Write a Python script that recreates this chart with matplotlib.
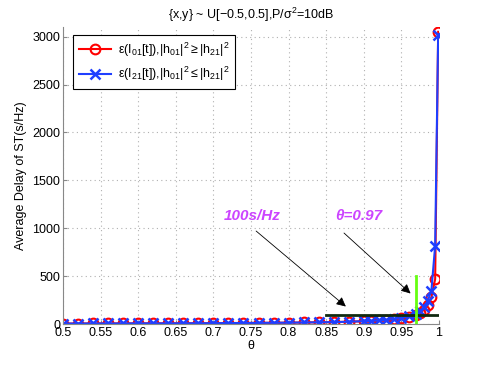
import matplotlib
matplotlib.use("Agg")
import matplotlib.pyplot as plt

plt.rcParams['font.family'] = ['Liberation Sans', 'DejaVu Sans']
plt.rcParams['mathtext.fontset'] = 'custom'
plt.rcParams['mathtext.rm'] = 'Liberation Sans'
plt.rcParams['mathtext.it'] = 'Liberation Sans:italic'

theta = [0.5, 0.52, 0.54, 0.56, 0.58, 0.6, 0.62, 0.64, 0.66, 0.68, 0.7, 0.72,
         0.74, 0.76, 0.78, 0.8, 0.82, 0.84, 0.86, 0.88, 0.9, 0.91, 0.92, 0.93,
         0.94, 0.95, 0.96, 0.97, 0.975, 0.98, 0.985, 0.99, 0.995, 0.999]
red_vals = [6, 6, 7, 7, 7, 8, 8, 8, 9, 9, 10, 11, 12, 13, 14, 15, 17, 19, 21,
            25, 30, 33, 38, 43, 50, 60, 75, 100, 120, 150, 200, 280, 470, 3050]
blue_vals = [6, 6, 7, 7, 7, 8, 8, 8, 9, 9, 10, 11, 12, 13, 14, 15, 17, 19, 21,
             25, 31, 34, 39, 45, 53, 64, 82, 110, 135, 175, 240, 350, 820, 3020]

label_red = r'$\mathrm{\epsilon(I_{01}[t]){,}|h_{01}|^2 \geq |h_{21}|^2}$'
label_blue = r'$\mathrm{\epsilon(I_{21}[t]){,}|h_{01}|^2 \leq |h_{21}|^2}$'

fig = plt.figure(figsize=(4.85, 3.65), dpi=100)
ax = fig.add_axes([0.13, 0.112, 0.775, 0.814])

ax.plot(theta, red_vals, color='red', lw=1.5, marker='o', ms=7,
        mfc='none', mew=1.5, label=label_red)
ax.plot(theta, blue_vals, color='#1f3fff', lw=1.5, marker='x', ms=7,
        mew=1.8, label=label_blue)

ax.plot([0.85, 1.0], [100, 100], color='#102a10', lw=2)
ax.plot([0.97, 0.97], [0, 500], color='#66ff11', lw=2)

ax.set_xlim(0.5, 1.0)
ax.set_ylim(0, 3100)
ax.set_xticks([0.5, 0.55, 0.6, 0.65, 0.7, 0.75, 0.8, 0.85, 0.9, 0.95, 1.0])
ax.set_xticklabels(['0.5', '0.55', '0.6', '0.65', '0.7', '0.75', '0.8',
                    '0.85', '0.9', '0.95', '1'])
ax.set_yticks([0, 500, 1000, 1500, 2000, 2500, 3000])
ax.grid(True, linestyle=(0, (1, 3)), color='#b0b0b0', lw=0.8)
for s in ['top', 'right']:
    ax.spines[s].set_visible(False)
for s in ['left', 'bottom']:
    ax.spines[s].set_color('#888888')
ax.tick_params(direction='in', length=3, labelsize=9, color='#888888', pad=2)

ax.set_xlabel('θ', fontsize=9, labelpad=1)
ax.set_ylabel('Average Delay of ST(s/Hz)', fontsize=9)
ax.set_title(r'{x,y} ~ U[$-$0.5,0.5],P/$\mathrm{\sigma^2}$=10dB', fontsize=9)

leg = ax.legend(loc='upper left', fontsize=9, fancybox=False,
                edgecolor='black', framealpha=1, handlelength=2.6,
                borderpad=0.45, labelspacing=0.5, borderaxespad=0,
                handletextpad=0.5, bbox_to_anchor=(0.027, 0.973))
leg.get_frame().set_linewidth(0.8)

purple = '#cc44ff'
ax.annotate('', xy=(0.879, 165), xytext=(0.754, 990),
            arrowprops=dict(arrowstyle='-|>', color='black', lw=0.6,
                            mutation_scale=14))
ax.annotate('', xy=(0.965, 300), xytext=(0.871, 970),
            arrowprops=dict(arrowstyle='-|>', color='black', lw=0.6,
                            mutation_scale=14))
ax.text(0.714, 1060, '100s/Hz', color=purple, fontsize=11,
        fontweight='bold', style='italic', va='bottom')
ax.text(0.862, 1060, 'θ=0.97', color=purple, fontsize=11,
        fontweight='bold', style='italic', va='bottom')

fig.savefig('out.png', dpi=100)
